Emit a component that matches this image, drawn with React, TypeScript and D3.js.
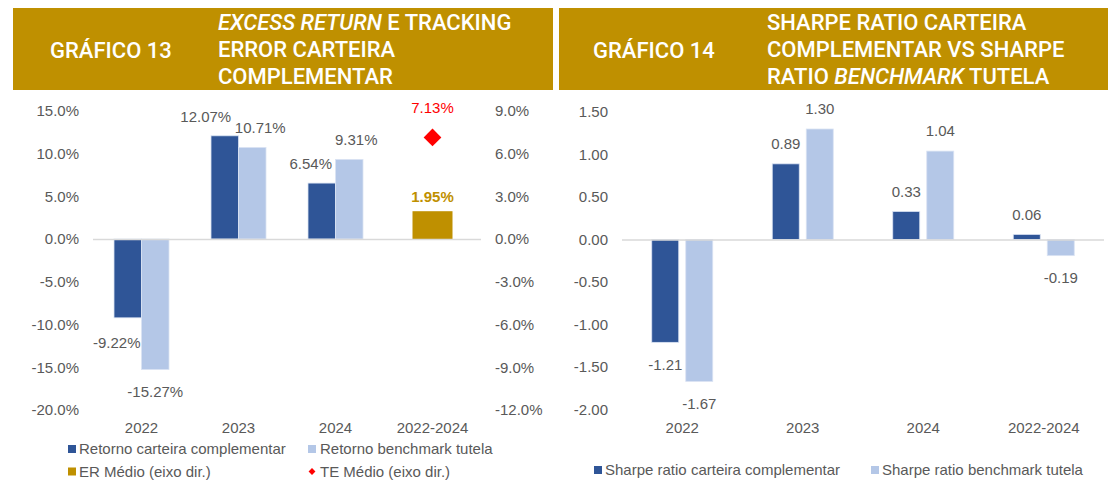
import React from "react";
import * as d3 from "d3";

// ---------- DATA ----------
const categories = ["2022", "2023", "2024", "2022-2024"];
const retornoCarteira = [-9.22, 12.07, 6.54];
const retornoBenchmark = [-15.27, 10.71, 9.31];
const erMedio = 1.95;
const teMedio = 7.13;
const leftTicks = [15, 10, 5, 0, -5, -10, -15, -20];
const rightTicks = [9, 6, 3, 0, -3, -6, -9, -12];

const sharpeCarteira = [-1.21, 0.89, 0.33, 0.06];
const sharpeBenchmark = [-1.67, 1.3, 1.04, -0.19];
const sharpeTicks = [1.5, 1.0, 0.5, 0.0, -0.5, -1.0, -1.5, -2.0];

// ---------- STYLE ----------
const DARK = "#2F5597";
const LIGHT = "#B4C7E7";
const GOLD = "#BF9000";
const RED = "#FF0000";
const TXT = "#595959";
const AXIS = "#D9D9D9";
const FONT = "'Liberation Sans', Arial, sans-serif";
const HFONT = "Roboto, 'Liberation Sans', sans-serif";
const FS = 15;
// label horizontal nudges (layout only)
const nudgeDark = [-11, -19, -11];
const nudgeLight = [0, 8, 7];

const locale = d3.formatLocale({ decimal: ".", thousands: ",", grouping: [3], currency: ["", ""], minus: "-" });
const f1 = locale.format(".1f");
const f2 = locale.format(".2f");

const W = 1114;
const H = 482;

function Header({ x0, x1, label, labelX, titleX, lines }: any) {
  return (
    <g>
      <rect x={x0} y={8} width={x1 - x0} height={82} fill={GOLD} />
      <text x={labelX} y={57.5} fill="#fff" fontFamily={HFONT} fontWeight={500} fontSize={22}>
        {label}
      </text>
      {lines.map((ln: any[], i: number) => (
        <text key={i} x={titleX} y={30 + i * 27} fill="#fff" fontFamily={HFONT} fontWeight={500} fontSize={22}>
          {ln.map((seg: any, j: number) => (
            <tspan key={j} fontStyle={seg.i ? "italic" : "normal"}>
              {seg.t}
            </tspan>
          ))}
        </text>
      ))}
    </g>
  );
}

function LeftChart() {
  const x0 = 93, x1 = 481;
  const y = d3.scaleLinear().domain([-20, 15]).range([410, 110.75]);
  const y2 = d3.scaleLinear().domain([-12, 9]).range([410, 110.75]);
  const x = d3.scaleBand().domain(categories).range([x0, x1]).paddingInner(0).paddingOuter(0);
  const bw = 27.5;
  const fmt = (v: number) => f2(v) + "%";
  return (
    <g>
      {leftTicks.map((t) => (
        <text key={t} x={79} y={y(t)} dy="0.35em" textAnchor="end" fill={TXT} fontFamily={FONT} fontSize={FS}>
          {f1(t) + "%"}
        </text>
      ))}
      {rightTicks.map((t) => (
        <text key={t} x={495} y={y2(t)} dy="0.35em" textAnchor="start" fill={TXT} fontFamily={FONT} fontSize={FS}>
          {f1(t) + "%"}
        </text>
      ))}
      {retornoCarteira.map((v, i) => {
        const cx = x(categories[i])! + x.bandwidth() / 2;
        const top = Math.min(y(v), y(0));
        const h = Math.abs(y(v) - y(0));
        return (
          <rect key={"d" + i} x={cx - bw} y={top} width={bw} height={h} fill={DARK} stroke="#DAE3F3" strokeWidth={0.8} />
        );
      })}
      {retornoBenchmark.map((v, i) => {
        const cx = x(categories[i])! + x.bandwidth() / 2;
        const top = Math.min(y(v), y(0));
        const h = Math.abs(y(v) - y(0));
        return (
          <rect key={"l" + i} x={cx} y={top} width={bw} height={h} fill={LIGHT} stroke="#DAE3F3" strokeWidth={0.8} />
        );
      })}
      {(() => {
        const cx = x(categories[3])! + x.bandwidth() / 2;
        return (
          <g>
            <rect x={cx - 20} y={y2(erMedio)} width={40} height={y2(0) - y2(erMedio)} fill={GOLD} />
            <path d={d3.symbol(d3.symbolDiamond2, 200)()!} transform={`translate(${cx},${y2(teMedio)})`} fill={RED} />
            <text x={cx} y={y2(erMedio) - 14} dy="0.35em" textAnchor="middle" fill={GOLD} fontWeight="bold" fontFamily={FONT} fontSize={FS}>
              {fmt(erMedio)}
            </text>
            <text x={cx} y={y2(teMedio) - 30} dy="0.35em" textAnchor="middle" fill={RED} fontFamily={FONT} fontSize={FS}>
              {fmt(teMedio)}
            </text>
          </g>
        );
      })()}
      <line x1={x0} x2={x1} y1={y(0) + 0.5} y2={y(0) + 0.5} stroke={AXIS} strokeWidth={1.5} />
      {retornoCarteira.map((v, i) => {
        const cx = x(categories[i])! + x.bandwidth() / 2 - bw / 2 + nudgeDark[i];
        const ly = v >= 0 ? y(v) - 19 : y(v) + 25;
        return (
          <text key={"dl" + i} x={cx} y={ly} dy="0.35em" textAnchor="middle" fill={TXT} fontFamily={FONT} fontSize={FS}>
            {fmt(v)}
          </text>
        );
      })}
      {retornoBenchmark.map((v, i) => {
        const cx = x(categories[i])! + x.bandwidth() / 2 + bw / 2 + nudgeLight[i];
        const ly = v >= 0 ? y(v) - 20 : y(v) + 22;
        return (
          <text key={"ll" + i} x={cx} y={ly} dy="0.35em" textAnchor="middle" fill={TXT} fontFamily={FONT} fontSize={FS}>
            {fmt(v)}
          </text>
        );
      })}
      {categories.map((c) => (
        <text key={c} x={x(c)! + x.bandwidth() / 2} y={428} dy="0.35em" textAnchor="middle" fill={TXT} fontFamily={FONT} fontSize={FS}>
          {c}
        </text>
      ))}
      {/* legend */}
      <rect x={68} y={445} width={8} height={8} fill={DARK} />
      <text x={79} y={449} dy="0.35em" fill={TXT} fontFamily={FONT} fontSize={FS}>Retorno carteira complementar</text>
      <rect x={308} y={445} width={8} height={8} fill={LIGHT} />
      <text x={320} y={449} dy="0.35em" fill={TXT} fontFamily={FONT} fontSize={FS}>Retorno benchmark tutela</text>
      <rect x={68} y={467.5} width={8} height={8} fill={GOLD} />
      <text x={79} y={471.5} dy="0.35em" fill={TXT} fontFamily={FONT} fontSize={FS}>ER Médio (eixo dir.)</text>
      <path d={d3.symbol(d3.symbolDiamond2, 30)()!} transform="translate(312,471.5)" fill={RED} />
      <text x={320} y={471.5} dy="0.35em" fill={TXT} fontFamily={FONT} fontSize={FS}>TE Médio (eixo dir.)</text>
    </g>
  );
}

function RightChart() {
  const x0 = 622, x1 = 1104;
  const y = d3.scaleLinear().domain([-2, 1.5]).range([409.5, 112]);
  const x = d3.scaleBand().domain(categories).range([x0, x1]);
  const bw = 27;
  const gap = 7;
  return (
    <g>
      {sharpeTicks.map((t) => (
        <text key={t} x={608} y={y(t)} dy="0.35em" textAnchor="end" fill={TXT} fontFamily={FONT} fontSize={FS}>
          {f2(t)}
        </text>
      ))}
      {[sharpeCarteira, sharpeBenchmark].map((ser, s) =>
        ser.map((v, i) => {
          const cx = x(categories[i])! + x.bandwidth() / 2;
          const bx = s === 0 ? cx - gap / 2 - bw : cx + gap / 2;
          const top = Math.min(y(v), y(0));
          const h = Math.abs(y(v) - y(0));
          return (
            <rect key={s + "-" + i} x={bx} y={top} width={bw} height={h} fill={s === 0 ? DARK : LIGHT} stroke="#DAE3F3" strokeWidth={0.8} />
          );
        })
      )}
      <line x1={x0} x2={x1} y1={y(0) + 0.5} y2={y(0) + 0.5} stroke={AXIS} strokeWidth={1.5} />
      {[sharpeCarteira, sharpeBenchmark].map((ser, s) =>
        ser.map((v, i) => {
          const cx = x(categories[i])! + x.bandwidth() / 2;
          const lx = s === 0 ? cx - gap / 2 - bw / 2 : cx + gap / 2 + bw / 2;
          const ly = v >= 0 ? y(v) - 20 : y(v) + 22;
          return (
            <text key={"t" + s + "-" + i} x={lx} y={ly} dy="0.35em" textAnchor="middle" fill={TXT} fontFamily={FONT} fontSize={FS}>
              {f2(v)}
            </text>
          );
        })
      )}
      {categories.map((c) => (
        <text key={c} x={x(c)! + x.bandwidth() / 2} y={428} dy="0.35em" textAnchor="middle" fill={TXT} fontFamily={FONT} fontSize={FS}>
          {c}
        </text>
      ))}
      <rect x={594} y={466} width={8} height={8} fill={DARK} />
      <text x={605} y={470} dy="0.35em" fill={TXT} fontFamily={FONT} fontSize={FS}>Sharpe ratio carteira complementar</text>
      <rect x={871} y={466} width={8} height={8} fill={LIGHT} />
      <text x={882} y={470} dy="0.35em" fill={TXT} fontFamily={FONT} fontSize={FS}>Sharpe ratio benchmark tutela</text>
    </g>
  );
}

export default function App() {
  return (
    <svg width={W} height={H} style={{ position: "absolute", left: 0, top: 0, background: "#fff" }}>
      <rect width={W} height={H} fill="#fff" />
      <Header
        x0={13}
        x1={553}
        label="GRÁFICO 13"
        labelX={50}
        titleX={218}
        lines={[
          [{ t: "EXCESS RETURN", i: true }, { t: " E TRACKING" }],
          [{ t: "ERROR CARTEIRA" }],
          [{ t: "COMPLEMENTAR" }],
        ]}
      />
      <Header
        x0={559}
        x1={1108}
        label="GRÁFICO 14"
        labelX={593}
        titleX={767}
        lines={[
          [{ t: "SHARPE RATIO CARTEIRA" }],
          [{ t: "COMPLEMENTAR VS SHARPE" }],
          [{ t: "RATIO " }, { t: "BENCHMARK", i: true }, { t: " TUTELA" }],
        ]}
      />
      <LeftChart />
      <RightChart />
    </svg>
  );
}
